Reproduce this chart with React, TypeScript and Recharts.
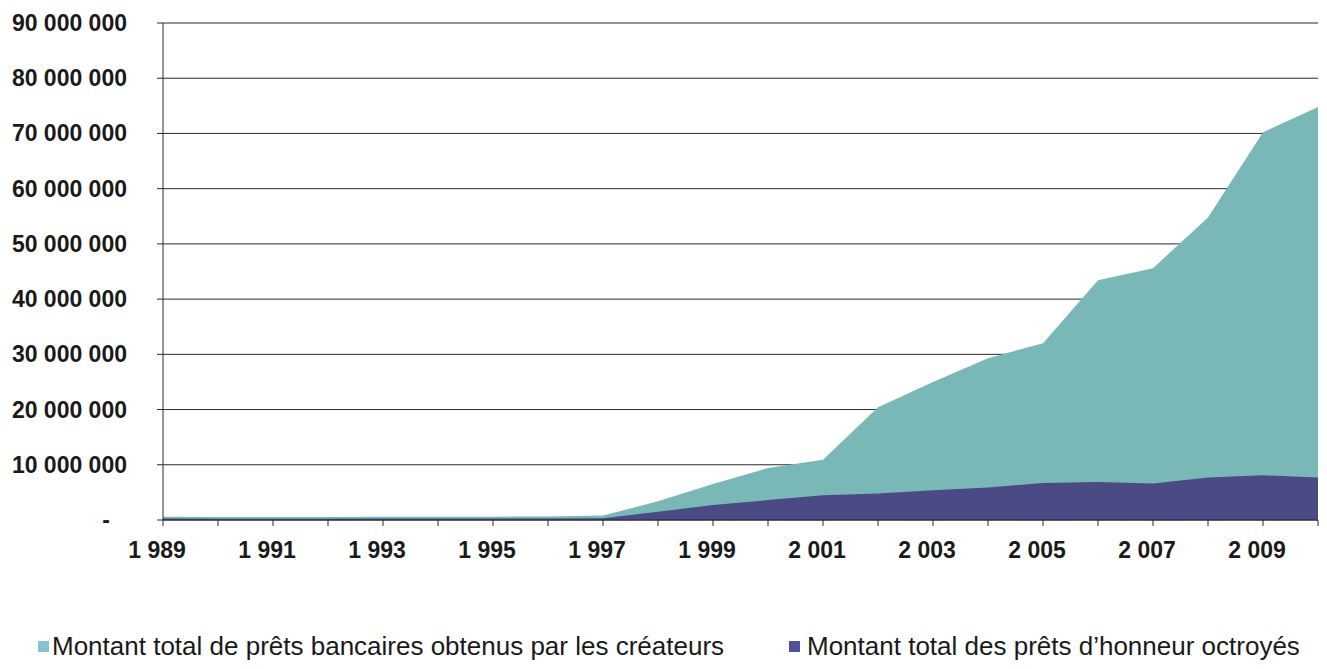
import React from "react";
import { AreaChart, Area, XAxis, YAxis, CartesianGrid } from "recharts";

const years = [1989, 1990, 1991, 1992, 1993, 1994, 1995, 1996, 1997, 1998, 1999, 2000, 2001, 2002, 2003, 2004, 2005, 2006, 2007, 2008, 2009, 2010];
const pretsBancaires = [600000, 550000, 550000, 550000, 600000, 600000, 600000, 650000, 800000, 3400000, 6500000, 9400000, 10900000, 20400000, 25000000, 29300000, 32000000, 43400000, 45600000, 54800000, 70200000, 74800000];
const pretsHonneur = [250000, 220000, 220000, 220000, 250000, 250000, 250000, 280000, 300000, 1500000, 2700000, 3600000, 4500000, 4800000, 5400000, 5900000, 6700000, 6900000, 6600000, 7700000, 8100000, 7700000];
const yTicks = [0, 10000000, 20000000, 30000000, 40000000, 50000000, 60000000, 70000000, 80000000, 90000000];
const seriesNames = ["Montant total de prêts bancaires obtenus par les créateurs", "Montant total des prêts d\u2019honneur octroyés"];

const data = years.map((y, i) => ({ year: y, bancaires: pretsBancaires[i], honneur: pretsHonneur[i] }));

const TEAL = "#79b8b7";
const PURPLE = "#4b4a84";
const FONT = "'Liberation Sans', Arial, sans-serif";

const fmtNum = (v: number) => String(v).replace(/\B(?=(\d{3})+(?!\d))/g, " ");

const YTick = (props: any) => {
  const { x, y, payload } = props;
  const v = payload.value as number;
  const label = v === 0 ? "-" : fmtNum(v);
  return (
    <text x={v === 0 ? x - 17 : x} y={y} dy="0.35em" textAnchor="end" fontFamily={FONT} fontWeight="bold" fontSize={23} fill="#1a1a1a">
      {label}
    </text>
  );
};

const XTick = (props: any) => {
  const { x, y, payload } = props;
  const v = payload.value as number;
  if (v % 2 === 0) return null;
  return (
    <text x={x - 6} y={y} dy="0.71em" textAnchor="middle" fontFamily={FONT} fontWeight="bold" fontSize={23} fill="#1a1a1a">
      {fmtNum(v)}
    </text>
  );
};

export default function App() {
  return (
    <div style={{ width: 1319, height: 661, position: "relative", background: "#fff" }}>
      <AreaChart width={1319} height={661} data={data} margin={{ top: 15, right: 9, left: 0, bottom: 119 }}>
        <CartesianGrid horizontal={true} vertical={false} stroke="#2a2a2a" strokeWidth={1} />
        <XAxis
          dataKey="year"
          type="number"
          domain={[1989, 2010]}
          ticks={years}
          interval={0}
          height={30}
          tick={<XTick />}
          tickSize={6}
          tickMargin={16}
          axisLine={{ stroke: "#2a2a2a" }}
          tickLine={{ stroke: "#2a2a2a" }}
        />
        <YAxis
          width={155}
          domain={[0, 90000000]}
          ticks={yTicks}
          interval={0}
          tick={<YTick />}
          tickSize={6}
          tickMargin={30}
          axisLine={{ stroke: "#2a2a2a" }}
          tickLine={{ stroke: "#2a2a2a" }}
        />
        <Area type="linear" dataKey="bancaires" name={seriesNames[0]} fill={TEAL} fillOpacity={1} stroke="none" isAnimationActive={false} />
        <Area type="linear" dataKey="honneur" name={seriesNames[1]} fill={PURPLE} fillOpacity={1} stroke="none" isAnimationActive={false} />
      </AreaChart>
      <div style={{ position: "absolute", left: 0, top: 622, width: 1319, height: 32, fontFamily: FONT, fontSize: 26, color: "#1a1a1a" }}>
        <div style={{ position: "absolute", left: 30, top: 11, width: 11, height: 11, background: "#86c2cf" }} />
        <div style={{ position: "absolute", left: 44, top: 0, whiteSpace: "nowrap", lineHeight: "32px" }}>{seriesNames[0]}</div>
        <div style={{ position: "absolute", left: 781, top: 11, width: 11, height: 11, background: "#51509a" }} />
        <div style={{ position: "absolute", left: 799, top: 0, whiteSpace: "nowrap", lineHeight: "32px" }}>{seriesNames[1]}</div>
      </div>
    </div>
  );
}
